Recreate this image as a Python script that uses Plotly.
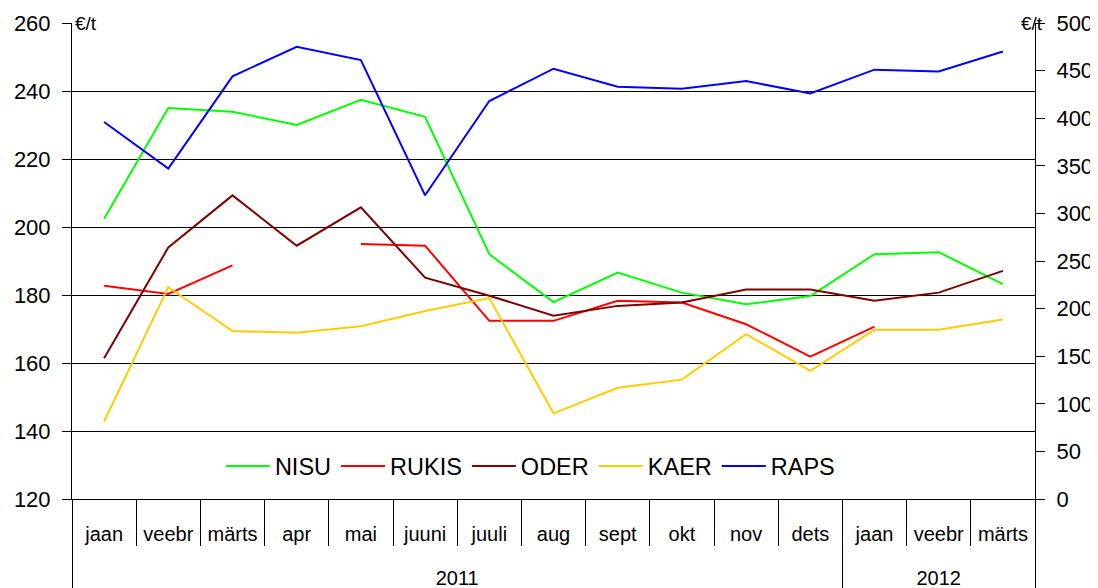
import plotly.graph_objects as go

months = ["jaan", "veebr", "märts", "apr", "mai", "juuni", "juuli", "aug",
          "sept", "okt", "nov", "dets", "jaan", "veebr", "märts"]
years = ["2011"] * 12 + ["2012"] * 3

NISU = [202.4, 235.0, 233.9, 230.0, 237.4, 232.4, 192.0, 177.9, 186.6, 180.7, 177.3, 179.7, 192.0, 192.6, 183.2]
RUKIS = [182.7, 180.3, 188.7, None, 195.0, 194.5, 172.4, 172.4, 178.3, 177.8, 171.4, 161.9, 170.7, None, None]
ODER = [161.4, 194.0, 209.3, 194.5, 205.8, 185.1, 179.8, 173.9, 176.8, 177.8, 181.6, 181.6, 178.3, 180.7, 187.1]
KAER = [142.8, 182.3, 169.4, 168.9, 170.8, 175.3, 179.1, 145.2, 152.7, 155.1, 168.5, 157.7, 169.8, 169.8, 172.8]
RAPS = [396, 347, 444, 475, 461, 319, 418, 452, 433, 431, 439, 426, 451, 449, 470]

FONT = "Liberation Sans, Arial, sans-serif"
# month labels carry an empty second line to push the year row lower
month_labels = ["<span style='font-size:20px'>%s</span><br> " % m for m in months]
year_labels = ["<span style='font-size:20px'>%s</span>" % y for y in years]
x = [year_labels, month_labels]

fig = go.Figure()
series = [
    ("NISU", NISU, "#00FF00", "y"),
    ("RUKIS", RUKIS, "#FF0000", "y"),
    ("ODER", ODER, "#800000", "y"),
    ("KAER", KAER, "#FFCC00", "y"),
    ("RAPS", RAPS, "#0000FF", "y2"),
]
for name, vals, col, ax in series:
    fig.add_trace(go.Scatter(x=x, y=vals, name=name, mode="lines",
                             line=dict(color=col, width=2), yaxis=ax,
                             connectgaps=False))

fig.update_layout(
    width=1090, height=580,
    margin=dict(l=64, r=63, t=15, b=89),
    paper_bgcolor="white", plot_bgcolor="white",
    font=dict(family=FONT, color="black", size=20),
    showlegend=True,
    legend=dict(orientation="h", x=0.476, y=0.069, xanchor="center", yanchor="middle",
                font=dict(size=23.5, family=FONT), bgcolor="rgba(0,0,0,0)",
                itemwidth=44),
    xaxis=dict(type="multicategory", range=[-0.5, 14.5], showline=True,
               linecolor="black", linewidth=1, automargin=False,
               ticks="outside", tickson="boundaries", ticklen=46, tickcolor="black",
               showdividers=True, dividercolor="black", dividerwidth=1,
               ticklabelstandoff=12,
               tickfont=dict(size=24, family=FONT), showgrid=False),
    yaxis=dict(range=[120, 260], dtick=20, showline=True, linecolor="black",
               ticks="outside", ticklen=9, tickcolor="black", showgrid=True,
               gridcolor="black", gridwidth=1, zeroline=False, automargin=False,
               ticklabelstandoff=7,
               tickfont=dict(size=22, family=FONT)),
    yaxis2=dict(range=[0, 500], dtick=50, overlaying="y", side="right",
                showline=True, linecolor="black", ticks="outside", ticklen=9,
                tickcolor="black", showgrid=False, zeroline=False, automargin=False,
                ticklabelstandoff=7,
                tickfont=dict(size=22, family=FONT)),
    annotations=[
        dict(text="€/t", xref="paper", yref="paper", x=0.0, y=1.0, xanchor="left",
             yanchor="middle", showarrow=False, xshift=1, font=dict(size=19, family=FONT)),
        dict(text="€/t", xref="paper", yref="paper", x=1.0, y=1.0, xanchor="right",
             yanchor="middle", showarrow=False, xshift=10, font=dict(size=19, family=FONT)),
    ],
)

fig.write_html("out.html")
